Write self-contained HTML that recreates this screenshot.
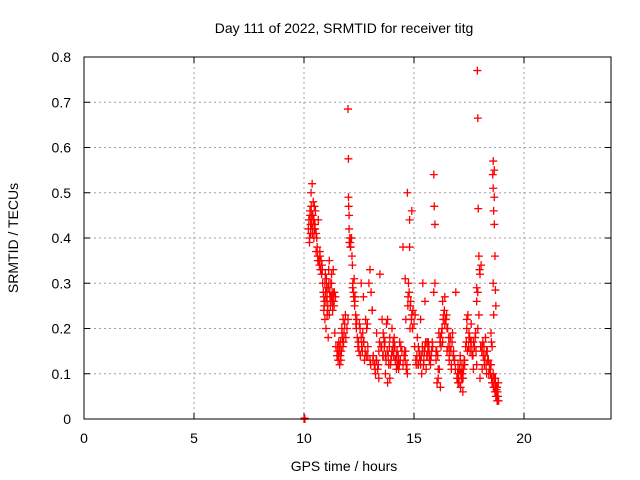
<!DOCTYPE html>
<html><head><meta charset="utf-8"><style>
html,body{margin:0;padding:0;background:#fff}
svg{display:block;font-family:"Liberation Sans",sans-serif}
</style></head><body>
<svg id="chart" width="640" height="480">
<text x="344" y="33" font-size="14" text-anchor="middle" fill="#000">Day 111 of 2022, SRMTID for receiver titg</text>
<text x="344" y="471" font-size="14" text-anchor="middle" fill="#000">GPS time / hours</text>
<text transform="translate(18,238) rotate(-90)" font-size="14" text-anchor="middle" fill="#000">SRMTID / TECUs</text>
<g id="grid"></g>
<g id="ticks"></g>
<g id="pts"></g>
<rect x="84" y="57" width="527" height="362" fill="none" stroke="#000" stroke-width="1"/>
</svg>
<script>
const xTicks=[0,5,10,15,20];
const yTicks=[0,0.1,0.2,0.3,0.4,0.5,0.6,0.7,0.8];
const yTickLabels=["0","0.1","0.2","0.3","0.4","0.5","0.6","0.7","0.8"];
const hours=[
10.0,10.02,10.04,10.2,10.22,10.25,10.27,10.3,10.32,10.35,
10.37,10.4,10.42,10.45,10.47,10.5,10.52,10.55,10.25,10.3,
10.35,10.4,10.45,10.5,10.55,10.6,10.62,10.65,10.68,10.7,
10.72,10.75,10.78,10.8,10.82,10.85,10.88,10.9,10.92,10.95,
10.98,11.0,11.02,11.05,11.08,11.1,11.12,11.15,11.18,11.2,
11.22,11.25,11.28,11.3,11.32,11.35,11.38,10.9,10.95,11.0,
11.05,11.1,11.15,11.2,11.25,11.3,11.35,11.4,11.45,11.5,
11.52,11.55,11.58,11.6,11.62,11.65,11.68,11.7,11.72,11.75,
11.78,11.8,11.82,11.85,11.88,11.9,11.95,12.0,12.0,12.02,
12.02,12.03,12.05,12.05,12.08,12.1,12.12,12.15,12.18,12.2,
12.22,12.25,12.28,12.3,12.32,12.35,12.38,12.4,12.42,12.45,
12.48,12.5,12.52,12.55,12.6,12.65,12.7,12.75,12.8,12.85,
12.9,12.95,13.0,13.05,13.1,13.15,13.2,13.25,13.3,13.35,
13.4,13.45,12.6,12.7,12.9,13.0,13.1,13.3,13.4,13.5,
13.55,13.6,13.65,13.7,13.75,13.8,13.85,13.9,13.95,14.0,
14.05,14.1,14.15,14.2,14.25,14.3,14.35,14.4,13.6,13.7,
13.8,13.9,14.0,14.1,14.2,14.3,14.45,14.5,14.55,14.6,
14.62,14.65,14.68,14.7,14.72,14.75,14.78,14.8,14.82,14.85,
14.9,14.95,14.5,14.6,14.7,14.8,14.9,15.0,15.05,15.1,
15.15,15.2,15.25,15.3,15.35,15.4,15.45,15.5,15.55,15.6,
15.65,15.7,15.75,15.8,15.85,15.9,15.92,15.95,15.95,15.9,
16.0,16.05,16.1,16.0,16.1,16.2,15.2,15.3,15.4,15.5,
15.6,15.7,16.15,16.2,16.25,16.3,16.35,16.4,16.45,16.5,
16.55,16.6,16.65,16.7,16.75,16.8,16.85,16.9,16.3,16.4,
16.5,16.6,16.7,16.95,17.0,17.02,17.05,17.08,17.1,17.12,
17.15,17.18,17.2,17.22,17.25,17.28,17.3,17.0,17.1,17.2,
17.3,17.35,17.4,17.45,17.5,17.55,17.6,17.65,17.7,17.75,
17.4,17.5,17.6,17.7,17.8,17.82,17.85,17.88,17.9,17.92,
17.95,17.98,17.85,17.9,17.95,17.85,17.9,18.0,18.05,18.1,
18.15,18.2,18.25,18.3,18.35,18.4,18.45,18.0,18.1,18.2,
18.3,18.5,18.52,18.55,18.58,18.6,18.62,18.65,18.68,18.7,
18.72,18.75,18.78,18.8,18.82,18.85,18.5,18.55,18.6,18.65,
18.6,18.62,18.65,18.68,18.7,18.72,18.62,18.6,18.58,18.65,
10.28,10.33,10.38,10.43,10.48,10.58,10.63,10.73,10.83,10.93,
11.03,11.13,11.23,11.33,11.43,10.97,11.07,11.17,11.27,11.37,
11.53,11.57,11.63,11.67,11.73,11.77,12.06,12.11,12.16,12.21,
12.26,12.31,12.36,12.56,12.62,12.67,12.72,12.78,12.83,12.88,
13.03,13.13,13.23,13.28,13.38,13.43,13.53,13.58,13.63,13.68,
13.73,13.78,13.83,13.88,13.93,13.98,14.03,14.08,14.13,14.18,
14.23,14.28,14.33,14.38,14.58,14.63,14.73,14.83,14.88,14.93,
15.03,15.08,15.13,15.18,15.23,15.28,15.33,15.38,15.43,15.48,
15.53,15.58,15.63,15.68,15.73,15.78,15.83,16.03,16.08,16.13,
16.18,16.23,16.28,16.33,16.38,16.43,16.48,16.53,16.58,16.63,
16.68,16.73,16.78,16.83,16.88,16.98,17.03,17.07,17.13,17.17,
17.23,17.27,17.38,17.43,17.48,17.53,17.58,17.63,17.68,17.73,
17.78,18.03,18.08,18.13,18.18,18.23,18.28,18.33,18.38,18.43,
18.48,18.53,18.63,18.73,18.77,18.83,18.8,18.78,18.75,18.7];
const srmtid=[
0,0.002,0,0.42,0.44,0.40,0.46,0.43,0.50,0.45,
0.52,0.42,0.48,0.44,0.47,0.43,0.46,0.41,0.39,0.41,
0.43,0.45,0.40,0.42,0.37,0.38,0.36,0.44,0.35,0.34,
0.37,0.33,0.35,0.32,0.34,0.30,0.28,0.27,0.25,0.30,
0.28,0.26,0.31,0.27,0.25,0.29,0.33,0.35,0.27,0.26,
0.30,0.32,0.28,0.24,0.27,0.26,0.28,0.24,0.22,0.20,
0.23,0.18,0.23,0.25,0.30,0.26,0.28,0.19,0.16,0.14,
0.15,0.13,0.17,0.16,0.12,0.14,0.13,0.15,0.20,0.18,
0.22,0.17,0.19,0.21,0.23,0.18,0.20,0.22,0.685,0.575,
0.49,0.47,0.45,0.42,0.40,0.39,0.38,0.40,0.36,0.34,
0.30,0.28,0.31,0.25,0.27,0.23,0.20,0.22,0.18,0.16,
0.17,0.15,0.21,0.20,0.18,0.15,0.17,0.13,0.22,0.20,
0.16,0.30,0.33,0.28,0.24,0.14,0.12,0.10,0.13,0.11,
0.09,0.32,0.30,0.27,0.14,0.13,0.24,0.19,0.15,0.16,
0.22,0.19,0.16,0.14,0.21,0.22,0.12,0.18,0.13,0.15,
0.17,0.16,0.13,0.14,0.12,0.11,0.17,0.16,0.14,0.10,
0.08,0.09,0.20,0.18,0.11,0.13,0.15,0.12,0.14,0.13,
0.15,0.11,0.12,0.10,0.25,0.30,0.28,0.38,0.20,0.26,
0.46,0.24,0.38,0.31,0.50,0.44,0.23,0.21,0.23,0.12,
0.18,0.16,0.14,0.12,0.10,0.15,0.13,0.16,0.11,0.14,
0.17,0.13,0.12,0.15,0.16,0.54,0.47,0.43,0.30,0.28,
0.13,0.08,0.11,0.15,0.09,0.07,0.12,0.22,0.30,0.26,
0.17,0.14,0.11,0.18,0.19,0.26,0.23,0.27,0.22,0.20,
0.16,0.14,0.18,0.12,0.19,0.15,0.13,0.28,0.17,0.21,
0.15,0.13,0.11,0.09,0.12,0.10,0.08,0.11,0.13,0.07,
0.09,0.12,0.10,0.06,0.11,0.13,0.12,0.08,0.14,0.09,
0.13,0.16,0.20,0.23,0.18,0.15,0.17,0.14,0.11,0.16,
0.22,0.19,0.21,0.17,0.19,0.15,0.12,0.77,0.665,0.465,
0.36,0.33,0.29,0.20,0.23,0.26,0.28,0.32,0.34,0.16,
0.14,0.12,0.18,0.15,0.13,0.10,0.12,0.09,0.11,0.13,
0.10,0.19,0.17,0.16,0.08,0.10,0.07,0.09,0.06,0.08,
0.05,0.07,0.04,0.06,0.05,0.04,0.12,0.08,0.57,0.55,
0.51,0.46,0.43,0.36,0.285,0.25,0.23,0.30,0.54,0.49,
0.45,0.47,0.41,0.44,0.42,0.40,0.35,0.36,0.33,0.26,
0.29,0.30,0.27,0.33,0.27,0.32,0.24,0.28,0.26,0.25,
0.16,0.14,0.15,0.17,0.19,0.16,0.39,0.38,0.40,0.29,
0.27,0.26,0.21,0.14,0.16,0.19,0.17,0.15,0.14,0.21,
0.12,0.13,0.11,0.13,0.12,0.17,0.16,0.14,0.18,0.17,
0.13,0.15,0.14,0.16,0.12,0.14,0.15,0.14,0.16,0.13,
0.15,0.14,0.12,0.13,0.15,0.22,0.27,0.25,0.22,0.20,
0.16,0.13,0.14,0.12,0.15,0.13,0.14,0.16,0.12,0.15,
0.17,0.14,0.15,0.16,0.13,0.14,0.17,0.15,0.14,0.19,
0.17,0.16,0.20,0.22,0.24,0.22,0.23,0.20,0.18,0.16,
0.15,0.17,0.14,0.13,0.11,0.10,0.09,0.11,0.10,0.10,
0.09,0.12,0.17,0.15,0.16,0.18,0.17,0.15,0.14,0.16,
0.18,0.16,0.15,0.17,0.16,0.14,0.12,0.15,0.13,0.11,
0.10,0.09,0.07,0.06,0.05,0.08,0.04,0.07,0.065,0.09];
const X=h=>84+h*22;
const Y=v=>419-v*452.5;
const NS="http://www.w3.org/2000/svg";
const grid=document.getElementById('grid'),ticks=document.getElementById('ticks'),pts=document.getElementById('pts');
function mk(tag,attrs,parent){const e=document.createElementNS(NS,tag);for(const k in attrs)e.setAttribute(k,attrs[k]);parent.appendChild(e);return e;}
xTicks.forEach(t=>{
  const x=X(t);
  if(t>0){const g=mk('line',{x1:x,y1:57,x2:x,y2:419,stroke:'#a0a0a0','stroke-dasharray':'2,3'},grid);
  
  }
  mk('line',{x1:x,y1:419,x2:x,y2:413,stroke:'#000'},ticks);
  mk('line',{x1:x,y1:57,x2:x,y2:63,stroke:'#000'},ticks);
  const l=mk('text',{x:x,y:443,'font-size':14,'text-anchor':'middle'},ticks);l.textContent=t;
  
  
});
yTicks.forEach((t,i)=>{
  const y=Y(t);
  if(t>0&&t<0.8){const g=mk('line',{x1:84,y1:y,x2:611,y2:y,stroke:'#a0a0a0','stroke-dasharray':'2,3'},grid);
  
  }
  mk('line',{x1:84,y1:y,x2:90,y2:y,stroke:'#000'},ticks);
  mk('line',{x1:611,y1:y,x2:605,y2:y,stroke:'#000'},ticks);
  const l=mk('text',{x:71,y:y+5,'font-size':14,'text-anchor':'end'},ticks);l.textContent=yTickLabels[i];
  
  
});
const n=Math.min(hours.length,srmtid.length);
for(let i=0;i<n;i++){
  const x=X(hours[i]),y=Y(srmtid[i]);
  const p=mk('path',{d:`M${x-4},${y}h8M${x},${y-4}v8`,stroke:'#ff0000','stroke-width':1.3,fill:'none'},pts);
  
  
}
</script>
</body></html>
